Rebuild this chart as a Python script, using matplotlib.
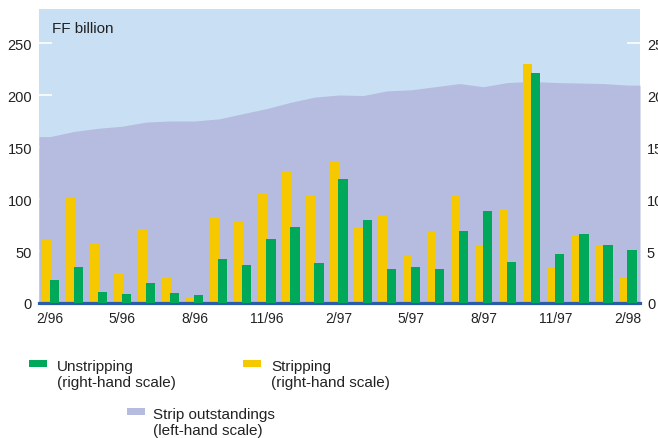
import matplotlib
matplotlib.use("Agg")
import matplotlib.pyplot as plt
import numpy as np
from matplotlib.patches import Rectangle

plt.rcParams['font.family'] = ['Liberation Sans', 'DejaVu Sans']

# monthly data, 2/96 .. 2/98
months = ['2/96', '3/96', '4/96', '5/96', '6/96', '7/96', '8/96', '9/96', '10/96',
          '11/96', '12/96', '1/97', '2/97', '3/97', '4/97', '5/97', '6/97', '7/97',
          '8/97', '9/97', '10/97', '11/97', '12/97', '1/98', '2/98']
tick_months = ['2/96', '5/96', '8/96', '11/96', '2/97', '5/97', '8/97', '11/97', '2/98']

# strip outstandings, FF billion (left-hand scale)
outstandings = [160, 165, 168, 170, 174, 175, 175, 177, 182, 187, 193, 198, 200,
                199.5, 204, 205, 208, 211, 208, 212, 213, 212, 211.5, 211, 209.5]
# stripping / unstripping, FF billion (right-hand scale)
stripping = [6.2, 10.1, 5.8, 2.9, 7.1, 2.5, 0.6, 8.3, 7.8, 10.6, 12.7, 10.4, 13.7,
             7.3, 8.5, 4.5, 6.8, 10.4, 5.6, 9.0, 23.0, 3.5, 6.4, 5.5, 2.4]
unstripping = [2.2, 3.5, 1.1, 0.9, 1.9, 1.0, 0.8, 4.2, 3.7, 6.2, 7.3, 3.8, 11.9,
               8.0, 3.3, 3.5, 3.3, 6.9, 8.8, 3.9, 22.1, 4.7, 6.6, 5.6, 5.1]

BG = '#c9dff3'
AREA = '#b5bcdf'
YELLOW = '#f5c800'
GREEN = '#00a859'
BASE = '#2a5ca8'
TXT = '#222222'

W, H = 658, 439
fig = plt.figure(figsize=(W / 100, H / 100), dpi=100)
ax = fig.add_axes([39 / W, 1 - 304 / H, (640 - 39) / W, (304 - 10) / H])
ax.set_facecolor(BG)

x = np.arange(len(months))
xlim = (-0.46, len(months) - 0.5)
ylim = 282.7
ax.set_xlim(*xlim)
ax.set_ylim(0, ylim)

left_ticks = [0, 50, 100, 150, 200, 250]
# white tick marks sit under the area
ax.hlines(left_ticks, 0, 0.022, transform=ax.get_yaxis_transform(), color='white', lw=1.2, zorder=0.5)
ax.hlines(left_ticks, 0.978, 1, transform=ax.get_yaxis_transform(), color='white', lw=1.2, zorder=0.5)

xa = np.r_[xlim[0], x, xlim[1]]
ya = np.r_[outstandings[0], outstandings, outstandings[-1]]
ax.fill_between(xa, 0, ya, color=AREA, lw=0, zorder=1)

ax2 = ax.twinx()
ax2.set_ylim(0, ylim / 10)
ax2.bar(x - 0.17, stripping, width=0.385, color=YELLOW, lw=0, zorder=2)
ax2.bar(x + 0.17, unstripping, width=0.385, color=GREEN, lw=0, zorder=3)

for a in (ax, ax2):
    for s in a.spines.values():
        s.set_visible(False)
ax2.spines['bottom'].set_visible(True)
ax2.spines['bottom'].set_color(BASE)
ax2.spines['bottom'].set_linewidth(2.3)

ax.set_yticks(left_ticks)
ax.set_yticklabels([str(v) for v in left_ticks])
ax.tick_params(axis='y', length=0, pad=5, labelsize=10.5, labelcolor=TXT)
ax2.set_yticks([v / 10 for v in left_ticks])
ax2.set_yticklabels([str(v // 10) for v in left_ticks])
ax2.tick_params(axis='y', length=0, pad=5, labelsize=10.5, labelcolor=TXT)

ax.set_xticks([months.index(m) for m in tick_months])
ax.set_xticklabels(tick_months)
ax.tick_params(axis='x', length=0, pad=6, labelsize=10, labelcolor=TXT)
ax2.tick_params(axis='x', length=0)

ax.text(13 / 601, 1 - 12 / 294, 'FF billion', transform=ax.transAxes, fontsize=11,
        color=TXT, ha='left', va='top', zorder=10)

# legend: patch box (left, top) and text baselines in pixels
def legend_item(px, py, color, line1, line2, tx, base1):
    fig.patches.append(Rectangle((px / W, 1 - (py + 7) / H), 18 / W, 7 / H,
                                 color=color, transform=fig.transFigure, lw=0))
    fig.text(tx / W, 1 - base1 / H, line1, fontsize=11, color=TXT, ha='left', va='baseline')
    fig.text(tx / W, 1 - (base1 + 16) / H, line2, fontsize=11, color=TXT, ha='left', va='baseline')

legend_item(29, 361, GREEN, 'Unstripping', '(right-hand scale)', 57, 371)
legend_item(243, 361, YELLOW, 'Stripping', '(right-hand scale)', 271, 371)
legend_item(127, 409, AREA, 'Strip outstandings', '(left-hand scale)', 153, 419)

fig.savefig('out.png', dpi=100)
